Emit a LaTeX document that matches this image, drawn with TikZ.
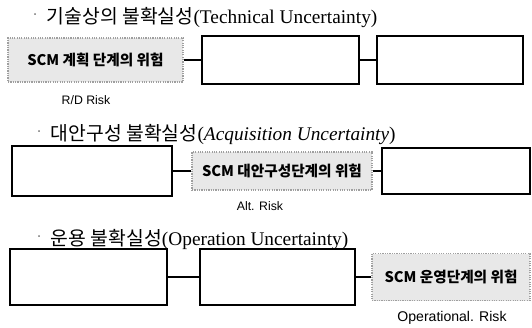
\documentclass[tikz,border=0pt]{standalone}
\usepackage{fontspec}
\setmainfont{Liberation Serif}
\setsansfont{Liberation Sans}
\newfontfamily\kr{Noto Sans CJK KR}
\usetikzlibrary{positioning}

\begin{document}
\begin{tikzpicture}[
		x=0.03cm, y=-0.03cm,
		title/.style={anchor=west, inner sep=0pt, font=\fontsize{16.5}{18}\selectfont},
		stage/.style={draw, line width=1pt, inner sep=0pt},
		risk/.style={stage, draw=gray!75, densely dotted, fill=gray!18, font=\kr\bfseries\fontsize{12.5}{14}\selectfont},
		tag/.style={font=\sffamily\fontsize{10.5}{12}\selectfont, inner sep=0pt},
		link/.style={draw, line width=1.1pt}
		]
		
		\useasboundingbox (0,0) rectangle (532,327);
		
		% Technical Uncertainty
		\node[title] (t1) at (34,18) {\raisebox{0.8ex}{\tiny\textbullet}\hspace{0.55em}{\kr 기술상의 불확실성}(Technical Uncertainty)};
		\node[risk, minimum width=175*0.03cm, minimum height=44*0.03cm] (r1a) at (95.5,60) {SCM 계획 단계의 위험};
		\node[stage, minimum width=157*0.03cm, minimum height=48*0.03cm] (r1b) at (280.5,60) {};
		\node[stage, minimum width=146*0.03cm, minimum height=48*0.03cm] (r1c) at (450,60) {};
		\node[tag] (l1) at (86,100) {R/D Risk};
		
		% Acquisition Uncertainty
		\node[title] (t2) at (38,135) {\raisebox{0.8ex}{\tiny\textbullet}\hspace{0.55em}{\kr 대안구성 불확실성}(\textit{Acquisition Uncertainty})};
		\node[stage, minimum width=160*0.03cm, minimum height=50*0.03cm] (r2a) at (92,171) {};
		\node[risk, minimum width=180*0.03cm, minimum height=38*0.03cm] (r2b) at (282,171) {SCM 대안구성단계의 위험};
		\node[stage, minimum width=148*0.03cm, minimum height=46*0.03cm] (r2c) at (456,171) {};
		\node[tag] (l2) at (260,206) {Alt. Risk};
		
		% Operation Uncertainty
		\node[title] (t3) at (38,240) {\raisebox{0.8ex}{\tiny\textbullet}\hspace{0.55em}{\kr 운용 불확실성}(Operation Uncertainty)};
		\node[stage, minimum width=157*0.03cm, minimum height=56*0.03cm] (r3a) at (88.5,277) {};
		\node[stage, minimum width=155*0.03cm, minimum height=56*0.03cm] (r3b) at (277.5,277) {};
		\node[risk, minimum width=158*0.03cm, minimum height=47*0.03cm] (r3c) at (451,277) {SCM 운영단계의 위험};
		\node[tag, font=\sffamily\fontsize{12}{14}\selectfont] (l3) at (452,318) {Operational. Risk};
		
		% Les liaisons
		\draw[link, line width=1.5pt] (r1a) -- (r1b);
		\draw[link] (r1b) -- (r1c);
		\draw[link, line width=1.5pt] (r2a) -- (r2b);
		\draw[link] (r2b) -- (r2c);
		\draw[link] (r3a) -- (r3b);
		\draw[link] (r3b) -- (r3c);
	\end{tikzpicture}
\end{document}
